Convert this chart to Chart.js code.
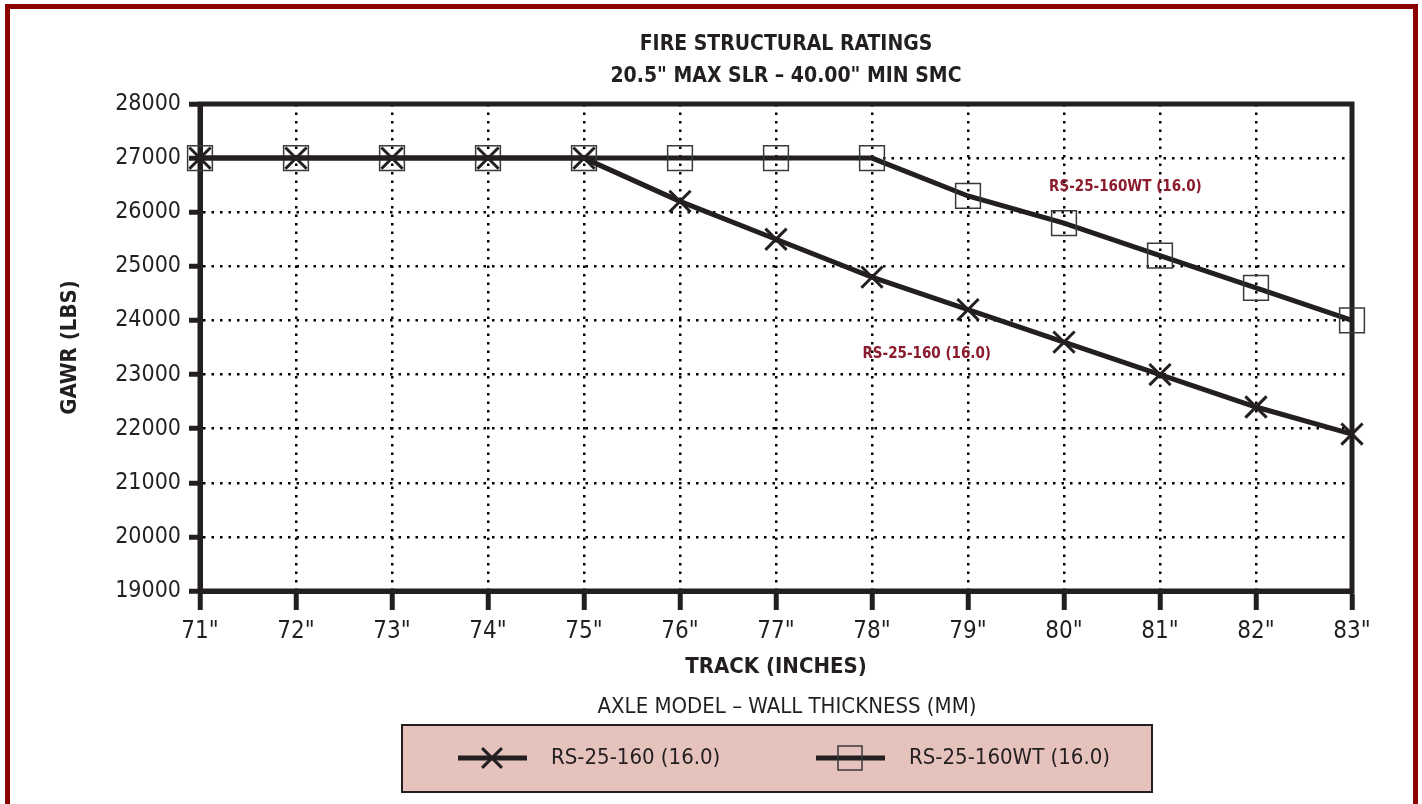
<!DOCTYPE html>
<html>
<head>
<meta charset="utf-8">
<script src="https://cdn.jsdelivr.net/npm/chart.js@4.4.0/dist/chart.umd.min.js"></script>
<style>
  html, body { margin: 0; padding: 0; background: #fff; overflow: hidden; }
  #frame { position: absolute; left: 5px; top: 4px; width: 1403px; height: 820px; border: 5px solid #8b0000; border-bottom: none; }
  #chart { position: absolute; left: 0; top: 0; }
</style>
</head>
<body>
<div id="frame"></div>
<canvas id="chart" width="1422" height="804"></canvas>
<script>
const tracks = ['71"', '72"', '73"', '74"', '75"', '76"', '77"', '78"', '79"', '80"', '81"', '82"', '83"'];
const rs160 = [27000, 27000, 27000, 27000, 27000, 26200, 25500, 24800, 24200, 23600, 23000, 22400, 21900];
const rs160wt = [27000, 27000, 27000, 27000, 27000, 27000, 27000, 27000, 26300, 25800, 25200, 24600, 24000];
const seriesNames = ['RS-25-160 (16.0)', 'RS-25-160WT (16.0)'];
const titleLines = ['FIRE STRUCTURAL RATINGS', '20.5" MAX SLR \u2013 40.00" MIN SMC'];
const legendTitle = 'AXLE MODEL \u2013 WALL THICKNESS (MM)';

const ink = '#231f20';
const maroon = '#8c1b2e';
const narrow = "'Liberation Sans Narrow', 'DejaVu Sans Condensed', Arial, sans-serif";

const extras = {
  id: 'extras',
  beforeDatasetsDraw(chart) {
    const {ctx, chartArea: a} = chart;
    ctx.save();
    ctx.strokeStyle = ink;
    ctx.lineWidth = 5;
    ctx.strokeRect(a.left, a.top, a.right - a.left, a.bottom - a.top);
    ctx.restore();
  },
  afterDraw(chart) {
    const {ctx, chartArea: a, scales} = chart;
    const cx = (a.left + a.right) / 2 + 10;
    ctx.save();
    ctx.textAlign = 'center';
    ctx.textBaseline = 'middle';
    ctx.fillStyle = ink;
    ctx.font = "bold 21px " + narrow;
    ctx.fillText(titleLines[0], cx, 45);
    ctx.fillText(titleLines[1], cx, 77);

    // in-plot labels
    ctx.fillStyle = maroon;
    ctx.font = "bold 15px " + narrow;
    ctx.fillText(seriesNames[1], scales.x.getPixelForValue(9.64), scales.y.getPixelForValue(26460));
    ctx.fillText(seriesNames[0], scales.x.getPixelForValue(7.57), scales.y.getPixelForValue(23380));

    // legend
    ctx.fillStyle = ink;
    ctx.font = "22px " + narrow;
    ctx.fillText(legendTitle, cx + 1, 707);
    const bx = a.left + 202, by = 725, bw = 750, bh = 67;
    const boxFill = '#e5c2bc';
    ctx.fillStyle = boxFill;
    ctx.fillRect(bx, by, bw, bh);
    ctx.strokeStyle = ink;
    ctx.lineWidth = 2;
    ctx.strokeRect(bx, by, bw, bh);

    const ly = by + 33;
    const items = [{x: bx + 56, ds: chart.data.datasets[0], r: 14}, {x: bx + 414, ds: chart.data.datasets[1], r: 17}];
    items.forEach((it, i) => {
      ctx.strokeStyle = ink;
      ctx.lineWidth = 5;
      ctx.beginPath();
      ctx.moveTo(it.x, ly);
      ctx.lineTo(it.x + 69, ly);
      ctx.stroke();
      ctx.strokeStyle = it.ds.pointBorderColor;
      ctx.fillStyle = 'rgba(0,0,0,0)';
      ctx.lineWidth = it.ds.pointBorderWidth;
      Chart.helpers.drawPoint(ctx, {pointStyle: it.ds.pointStyle, rotation: 0, radius: it.r, borderWidth: it.ds.pointBorderWidth}, it.x + 34, ly);
      ctx.fillStyle = ink;
      ctx.textAlign = 'left';
      ctx.font = "22px " + narrow;
      ctx.fillText(seriesNames[i], it.x + 93, ly);
    });
    ctx.restore();
  }
};

new Chart(document.getElementById('chart'), {
  type: 'line',
  data: {
    labels: tracks,
    datasets: [
      {
        label: seriesNames[0],
        data: rs160,
        borderColor: ink,
        borderWidth: 5,
        pointStyle: 'crossRot',
        pointRadius: 15,
        pointBorderWidth: 3,
        pointBorderColor: ink,
        pointBackgroundColor: 'rgba(0,0,0,0)',
        clip: false
      },
      {
        label: seriesNames[1],
        data: rs160wt,
        borderColor: ink,
        borderWidth: 5,
        pointStyle: 'rect',
        pointRadius: 17.5,
        pointBorderWidth: 1.5,
        pointBorderColor: '#3a3a3a',
        pointBackgroundColor: 'rgba(0,0,0,0)',
        clip: false
      }
    ]
  },
  options: {
    responsive: false,
    animation: false,
    layout: {padding: {left: 0, right: 70, top: 104, bottom: 118}},
    plugins: {
      legend: {display: false},
      tooltip: {enabled: false}
    },
    scales: {
      x: {
        afterFit(scale) { scale.height = 95; },
        grid: {color: '#000', lineWidth: 2.5, tickLength: 19, tickWidth: 5, tickColor: ink},
        border: {display: true, width: 5, color: ink, dash: [2.5, 6]},
        ticks: {color: ink, padding: 7, font: {family: narrow, size: 24}},
        title: {display: true, text: 'TRACK (INCHES)', color: ink, padding: {top: 0, bottom: 6}, font: {family: narrow, size: 22, weight: 'bold'}}
      },
      y: {
        min: 19000,
        max: 28000,
        afterFit(scale) { scale.width = 200; },
        grid: {color: '#000', lineWidth: 2.5, tickLength: 11, tickWidth: 5, tickColor: ink},
        border: {display: true, width: 5, color: ink, dash: [2.5, 6]},
        ticks: {stepSize: 1000, color: ink, padding: 8, font: {family: narrow, size: 23},
          callback: (v) => String(v)},
        title: {display: true, text: 'GAWR (LBS)', color: ink, padding: {top: 57, bottom: 0}, font: {family: narrow, size: 22, weight: 'bold'}}
      }
    }
  },
  plugins: [extras]
});
</script>
</body>
</html>
